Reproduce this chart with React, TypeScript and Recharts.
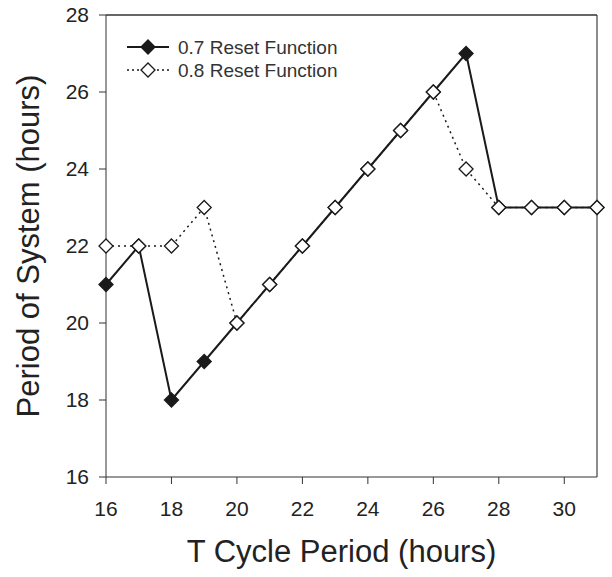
import { LineChart, Line, XAxis, YAxis, ReferenceLine } from "recharts";

// T cycle periods (hours)
const tCycle = [16, 17, 18, 19, 20, 21, 22, 23, 24, 25, 26, 27, 28, 29, 30, 31];
// Period of system for each reset function
const reset07 = [21, 22, 18, 19, 20, 21, 22, 23, 24, 25, 26, 27, 23, 23, 23, 23];
const reset08 = [22, 22, 22, 23, 20, 21, 22, 23, 24, 25, 26, 24, 23, 23, 23, 23];

const xTicks = [16, 18, 20, 22, 24, 26, 28, 30];
const yTicks = [16, 18, 20, 22, 24, 26, 28];

const data = tCycle.map((t, i) => ({ t, r07: reset07[i], r08: reset08[i] }));

const FONT = '"Liberation Sans", Arial, sans-serif';
const INK = "#1a1a1a";
const S = 7; // diamond half size

function Diamond({ cx, cy, filled }: { cx?: number; cy?: number; filled: boolean }) {
  if (cx == null || cy == null) return null;
  return (
    <polygon
      points={`${cx},${cy - S} ${cx + S},${cy} ${cx},${cy + S} ${cx - S},${cy}`}
      fill={filled ? INK : "#fff"}
      stroke={INK}
      strokeWidth={1.3}
    />
  );
}

// legend drawn over the top-left of the plot
function LegendBox() {
  const rows = [
    { label: "0.7 Reset Function", filled: true, dash: undefined },
    { label: "0.8 Reset Function", filled: false, dash: "2 3" },
  ];
  return (
    <svg width={240} height={50} style={{ position: "absolute", left: 125, top: 37 }}>
      {rows.map((r, i) => {
        const y = 10 + i * 23;
        return (
          <g key={r.label}>
            <line x1={2} x2={44} y1={y} y2={y} stroke={INK} strokeWidth={r.filled ? 2 : 1.3} strokeDasharray={r.dash} />
            <Diamond cx={23} cy={y} filled={r.filled} />
            <text x={53} y={y + 7} fontSize={19} fontFamily={FONT} fill="#333">
              {r.label}
            </text>
          </g>
        );
      })}
    </svg>
  );
}

export default function App() {
  return (
    <div style={{ position: "absolute", left: 0, top: 0, width: 612, height: 577, background: "#fff" }}>
      <LineChart width={612} height={577} data={data} margin={{ top: 15, right: 15, bottom: 0, left: 0 }}>
        <XAxis
          dataKey="t"
          type="number"
          domain={[16, 31]}
          ticks={xTicks}
          height={100}
          tickSize={7}
          tickMargin={17}
          stroke="#333"
          tick={{ fill: "#222", fontSize: 21, fontFamily: FONT }}
          label={{ value: "T Cycle Period (hours)", position: "insideBottom", offset: 15, dx: -10, fontSize: 31, fontFamily: FONT, fill: "#222" }}
        />
        <YAxis
          type="number"
          domain={[16, 28]}
          ticks={yTicks}
          width={106}
          tickSize={7}
          tickMargin={10}
          stroke="#333"
          tick={{ fill: "#222", fontSize: 21, fontFamily: FONT }}
          label={{
            value: "Period of System (hours)",
            angle: -90,
            position: "insideLeft",
            offset: 28,
            fontSize: 31,
            fontFamily: FONT,
            fill: "#222",
            style: { textAnchor: "middle" },
          }}
        />
        <ReferenceLine x={31} stroke="#666" strokeWidth={1.5} />
        <ReferenceLine y={28} stroke="#333" strokeWidth={1.5} />
        <Line
          dataKey="r08"
          stroke={INK}
          strokeWidth={1.5}
          strokeDasharray="2 4"
          dot={false}
          activeDot={false}
          isAnimationActive={false}
        />
        <Line
          dataKey="r07"
          stroke={INK}
          strokeWidth={2}
          dot={(p: any) => <Diamond key={`a${p.index}`} cx={p.cx} cy={p.cy} filled />}
          activeDot={false}
          isAnimationActive={false}
        />
        <Line
          dataKey="r08"
          stroke="none"
          dot={(p: any) => <Diamond key={`b${p.index}`} cx={p.cx} cy={p.cy} filled={false} />}
          activeDot={false}
          isAnimationActive={false}
        />
      </LineChart>
      <LegendBox />
    </div>
  );
}
